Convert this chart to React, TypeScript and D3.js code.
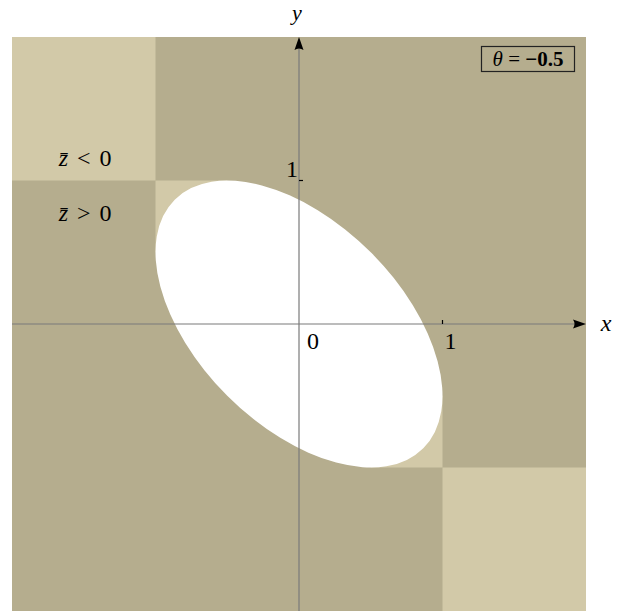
import React, { useEffect, useRef } from "react";
import * as d3 from "d3";

// domain of both axes
const xDomain = [-2, 2];
const yDomain = [-2, 2];
const theta = -0.5;

// regions where z̄ < 0 (light), as [x0, x1, y0, y1]
const lightRegions = [
  [-2, -1, 1, 2],
  [1, 2, -2, -1],
  [-1, -0.5, 0.5, 1],
  [0.5, 1, -1, -0.5],
];

const xTicks = [0, 1];
const yTicks = [1];

const regionLabels = [
  { rel: "<", x: -1.49, y: 1.1 },
  { rel: ">", x: -1.49, y: 0.72 },
];

const DARK = "#b5ad8e";
const LIGHT = "#d2c9a8";
const FONT = "'Liberation Serif', 'DejaVu Serif', serif";

const App = () => {
  const svgRef = useRef<SVGSVGElement>(null);

  useEffect(() => {
    const svg = d3.select(svgRef.current);
    svg.selectAll("*").remove();

    const x = d3.scaleLinear().domain(xDomain).range([12, 586]);
    const y = d3.scaleLinear().domain(yDomain).range([611, 37]);
    const k = x(1) - x(0);

    // background: z̄ > 0
    svg
      .append("rect")
      .attr("x", x(xDomain[0]))
      .attr("y", y(yDomain[1]))
      .attr("width", x(xDomain[1]) - x(xDomain[0]))
      .attr("height", y(yDomain[0]) - y(yDomain[1]))
      .attr("fill", DARK);

    svg
      .selectAll(".light")
      .data(lightRegions)
      .enter()
      .append("rect")
      .attr("class", "light")
      .attr("x", (d) => x(d[0]))
      .attr("y", (d) => y(d[3]))
      .attr("width", (d) => x(d[1]) - x(d[0]))
      .attr("height", (d) => y(d[2]) - y(d[3]))
      .attr("fill", LIGHT);

    // ellipse x² + y² - 2θxy = 1 - θ²  (rotated 45°)
    const a = Math.sqrt(1 - theta); // along (1,-1)
    const b = Math.sqrt(1 + theta); // along (1,1)
    svg
      .append("ellipse")
      .attr("cx", 0)
      .attr("cy", 0)
      .attr("rx", a * k)
      .attr("ry", b * k)
      .attr("transform", `translate(${x(0)},${y(0)}) rotate(45)`)
      .attr("fill", "#fff");

    // axes
    svg
      .append("line")
      .attr("x1", x(xDomain[0]))
      .attr("x2", x(xDomain[1]) - 8)
      .attr("y1", y(0))
      .attr("y2", y(0))
      .attr("stroke", "#7a7a7a")
      .attr("stroke-width", 1.2);
    svg
      .append("line")
      .attr("x1", x(0))
      .attr("x2", x(0))
      .attr("y1", y(yDomain[0]))
      .attr("y2", y(yDomain[1]) + 8)
      .attr("stroke", "#7a7a7a")
      .attr("stroke-width", 1.2);

    const tipX = x(xDomain[1]);
    const tipY = y(yDomain[1]);
    svg
      .append("path")
      .attr(
        "d",
        `M${tipX},${y(0)} L${tipX - 13},${y(0) - 4.5} Q${tipX - 10},${y(0)} ${tipX - 13},${y(0) + 4.5} Z`
      )
      .attr("fill", "#000");
    svg
      .append("path")
      .attr(
        "d",
        `M${x(0)},${tipY} L${x(0) - 4.5},${tipY + 13} Q${x(0)},${tipY + 10} ${x(0) + 4.5},${tipY + 13} Z`
      )
      .attr("fill", "#000");

    // ticks
    svg
      .selectAll(".xtick")
      .data(xTicks.filter((t) => t !== 0))
      .enter()
      .append("line")
      .attr("x1", (d) => x(d))
      .attr("x2", (d) => x(d))
      .attr("y1", y(0))
      .attr("y2", y(0) - 4)
      .attr("stroke", "#000")
      .attr("stroke-width", 1.2);
    svg
      .selectAll(".ytick")
      .data(yTicks)
      .enter()
      .append("line")
      .attr("x1", x(0))
      .attr("x2", x(0) + 4)
      .attr("y1", (d) => y(d))
      .attr("y2", (d) => y(d))
      .attr("stroke", "#000")
      .attr("stroke-width", 1.2);

    svg
      .selectAll(".xlab")
      .data(xTicks)
      .enter()
      .append("text")
      .attr("x", (d) => x(d) + (d === 0 ? 14 : 8))
      .attr("y", y(0) + 25)
      .attr("text-anchor", "middle")
      .attr("font-family", FONT)
      .attr("font-size", 24)
      .text((d) => d);
    svg
      .selectAll(".ylab")
      .data(yTicks)
      .enter()
      .append("text")
      .attr("x", x(0) - 7)
      .attr("y", (d) => y(d) - 4)
      .attr("text-anchor", "middle")
      .attr("font-family", FONT)
      .attr("font-size", 24)
      .text((d) => d);

    // axis titles
    svg
      .append("text")
      .attr("x", 606)
      .attr("y", y(0) + 7)
      .attr("text-anchor", "middle")
      .attr("font-family", FONT)
      .attr("font-style", "italic")
      .attr("font-size", 24)
      .text("x");
    svg
      .append("text")
      .attr("x", x(0) - 2)
      .attr("y", 20)
      .attr("text-anchor", "middle")
      .attr("font-family", FONT)
      .attr("font-style", "italic")
      .attr("font-size", 22)
      .text("y");

    // region labels
    const rl = svg
      .selectAll(".rlab")
      .data(regionLabels)
      .enter()
      .append("text")
      .attr("x", (d) => x(d.x))
      .attr("y", (d) => y(d.y))
      .attr("text-anchor", "middle")
      .attr("font-family", FONT)
      .attr("font-size", 24)
      .attr("word-spacing", 3);
    rl.append("tspan").attr("font-style", "italic").text("z\u0304");
    rl.append("tspan").text((d) => ` ${d.rel} 0`);

    // theta box
    svg
      .append("rect")
      .attr("x", 481.5)
      .attr("y", 46.5)
      .attr("width", 93)
      .attr("height", 25)
      .attr("fill", "none")
      .attr("stroke", "#222")
      .attr("stroke-width", 1.2);
    const t = svg
      .append("text")
      .attr("x", 528)
      .attr("y", 66)
      .attr("text-anchor", "middle")
      .attr("font-family", FONT)
      .attr("font-size", 21);
    t.append("tspan").attr("font-style", "italic").text("\u03b8");
    t.append("tspan").text(" = ");
    t.append("tspan").attr("font-weight", "bold").text(`\u2212${Math.abs(theta)}`);
  }, []);

  return (
    <svg
      ref={svgRef}
      width={636}
      height={615}
      style={{ position: "absolute", left: 0, top: 0 }}
    ></svg>
  );
};

export default App;
